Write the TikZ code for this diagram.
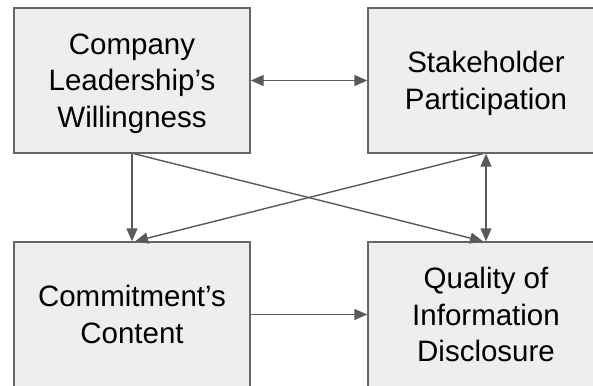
\documentclass[tikz,border=0pt]{standalone}
\usepackage{fontspec}
\setmainfont{Liberation Sans}
\usetikzlibrary{arrows.meta}
\definecolor{boxfill}{HTML}{EEEEEE}
\definecolor{boxline}{HTML}{666666}
\definecolor{arrowc}{HTML}{5A5A5A}
\newcommand{\nodepth}[1]{\raisebox{0pt}[\height][0pt]{#1}}
\tikzset{
  boxnode/.style={draw=boxline, fill=boxfill, line width=1.4pt, rectangle,
    minimum width=236pt, minimum height=145pt, inner sep=0pt,
    align=center, text=black, font=\fontsize{29.5}{36.5}\selectfont},
  conn/.style={draw=arrowc, line width=1.4pt},
  tip/.style={arrows={-{Triangle[length=13pt,width=11pt]}}},
  tips/.style={arrows={{Triangle[length=13pt,width=11pt]}-{Triangle[length=13pt,width=11pt]}}}
}
\begin{document}
\begin{tikzpicture}[x=1pt,y=-1pt]
\useasboundingbox (0,0) rectangle (593,385);
\clip (0,0) rectangle (593,385);
\node[boxnode] (b1) at (132,80.5) {Company\\Leadership’s\\\nodepth{Willingness}};
\node[boxnode] (b2) at (486,80.5) {Stakeholder\\\nodepth{Participation}};
\node[boxnode] (b3) at (132,314.5) {Commitment’s\\Content};
\node[boxnode] (b4) at (486,314.5) {Quality of\\Information\\Disclosure};
\draw[conn,tips] (b1.east) -- (b2.west);
\draw[conn,tip] (b1.south) -- (b3.north);
\draw[conn,tip] ([xshift=2pt]b1.south) -- ([xshift=-3pt]b4.north);
\draw[conn,tip] ([xshift=-3pt]b2.south) -- ([xshift=3pt]b3.north);
\draw[conn,tips] (b2.south) -- (b4.north);
\draw[conn,tip] (b3.east) -- (b4.west);
\end{tikzpicture}
\end{document}
